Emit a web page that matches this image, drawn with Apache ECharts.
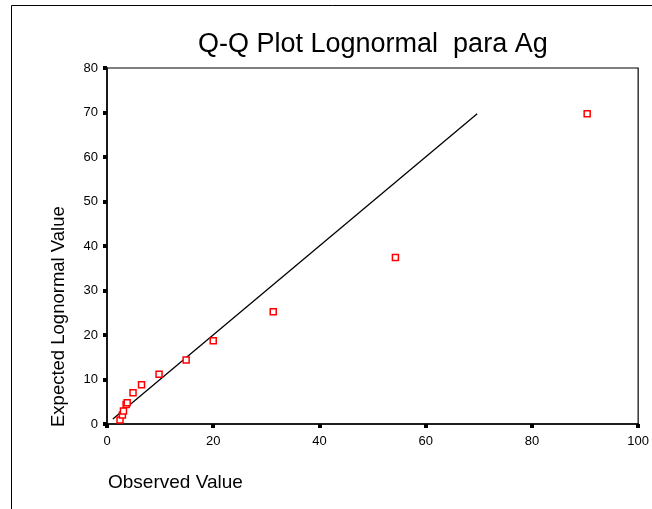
<!DOCTYPE html>
<html>
<head>
<meta charset="utf-8">
<script src="https://cdn.jsdelivr.net/npm/echarts@6/dist/echarts.min.js"></script>
<style>html,body{margin:0;padding:0;background:#fff;}#c{width:652px;height:509px;}</style>
</head>
<body>
<div id="c"></div>
<script>
var observed = [2.45, 2.9, 3.1, 3.6, 3.8, 4.9, 6.5, 9.8, 14.9, 20.0, 31.3, 54.3, 90.4];
var expected = [0.9, 2.0, 2.9, 4.4, 4.8, 7.0, 8.8, 11.2, 14.4, 18.7, 25.2, 37.4, 69.7];
var refLine = [1.1, 69.7];
var xTicks = [0, 20, 40, 60, 80, 100];
var yTicks = [0, 10, 20, 30, 40, 50, 60, 70, 80];

var points = observed.map(function (v, i) { return [v, expected[i]]; });
var FONT = 'Liberation Sans, Arial, sans-serif';
var chart = echarts.init(document.getElementById('c'), null, {renderer: 'canvas'});
chart.setOption({
  animation: false,
  backgroundColor: '#fff',
  title: {
    text: 'Q-Q Plot Lognormal  para Ag',
    left: 193, top: 26,
    textStyle: {fontFamily: FONT, fontWeight: 'normal', fontSize: 27, color: '#000'}
  },
  grid: {left: 107, right: 13, top: 68, bottom: 85, show: true, borderColor: '#000', borderWidth: 1.2, backgroundColor: 'transparent'},
  xAxis: {
    type: 'value', min: xTicks[0], max: xTicks[xTicks.length - 1], interval: 20,
    axisLine: {show: true, lineStyle: {color: '#000', width: 1.5}},
    axisTick: {show: true, length: 4, lineStyle: {color: '#000', width: 4}},
    axisLabel: {color: '#000', fontFamily: FONT, fontSize: 13, margin: 11},
    splitLine: {show: false}
  },
  yAxis: {
    type: 'value', min: yTicks[0], max: yTicks[yTicks.length - 1], interval: 10,
    axisLine: {show: true, lineStyle: {color: '#000', width: 1.5}},
    axisTick: {show: true, length: 4, lineStyle: {color: '#000', width: 4}},
    axisLabel: {color: '#000', fontFamily: FONT, fontSize: 13, margin: 9},
    splitLine: {show: false}
  },
  graphic: [
    {type: 'rect', silent: true, z: -1, shape: {x: 11.5, y: 5.5, width: 720, height: 620}, style: {fill: 'none', stroke: '#000', lineWidth: 1}},
    {type: 'text', x: 108, y: 483, style: {text: 'Observed Value', font: '19px ' + FONT, fill: '#000', align: 'left', verticalAlign: 'middle'}},
    {type: 'text', x: 59, y: 427, rotation: Math.PI / 2, style: {text: 'Expected Lognormal Value', font: '18.5px ' + FONT, fill: '#000', align: 'left', verticalAlign: 'middle'}}
  ],
  series: [
    {
      type: 'line', data: [[refLine[0], refLine[0]], [refLine[1], refLine[1]]],
      showSymbol: false, lineStyle: {color: '#000', width: 1.3}, z: 2, silent: true
    },
    {
      type: 'scatter', data: points, symbol: 'rect', symbolSize: 6,
      itemStyle: {color: '#fff', borderColor: '#ff0000', borderWidth: 1.5, opacity: 1}, z: 3
    }
  ]
});
</script>
</body>
</html>
